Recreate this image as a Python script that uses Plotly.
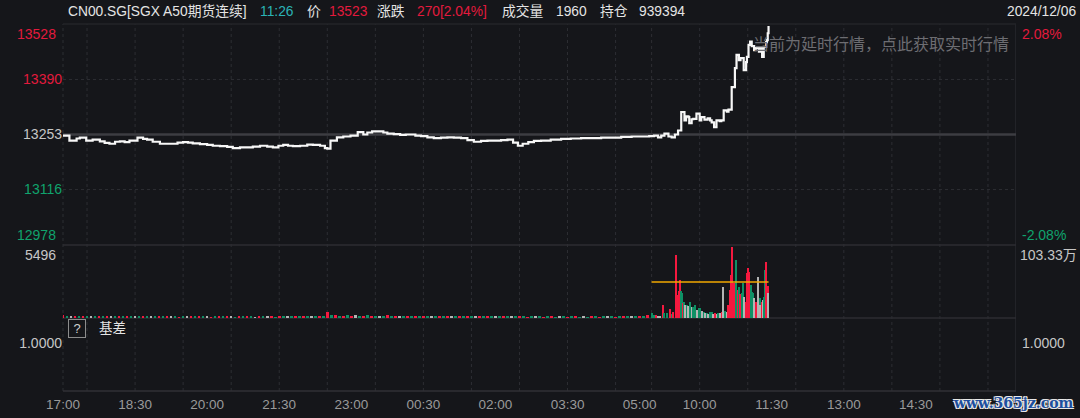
import plotly.graph_objects as go

# ---------------- data ----------------
prev_close = 13253
price_ticks = [13528, 13390, 13253, 13116, 12978]
pct_labels = ["2.08%", "1.04%", "0.00%", "-1.04%", "-2.08%"]
vol_max = 5496
oi_label = "103.33万"
basis_label = "1.0000"

xtick_times = ["17:00", "18:30", "20:00", "21:30", "23:00", "00:30", "02:00",
               "03:30", "05:00", "10:00", "11:30", "13:00", "14:30"]
grid_times = ["17:30", "18:30", "19:30", "20:30", "21:30", "22:30", "23:30",
              "00:30", "01:30", "02:30", "03:30", "04:30", "05:15",
              "10:00", "11:00", "12:00", "13:00", "14:00", "15:00", "16:00"]
session_end = "16:35"

price_times = [
    "17:00", "17:08", "17:17", "17:21", "17:29", "17:37", "17:46", "17:52", "17:58", "18:05",
    "18:11", "18:17", "18:23", "18:33", "18:40", "18:45", "18:52", "19:01", "19:10", "19:17",
    "19:23", "19:30", "19:36", "19:42", "19:51", "20:00", "20:07", "20:16", "20:25", "20:32",
    "20:41", "20:50", "20:57", "21:06", "21:15", "21:22", "21:29", "21:35", "21:41", "21:47",
    "21:56", "22:05", "22:12", "22:21", "22:27", "22:30", "22:34", "22:42", "22:50", "22:59",
    "23:08", "23:15", "23:20", "23:26", "23:34", "23:40", "23:45", "23:53", "00:01", "00:08",
    "00:14", "00:20", "00:27", "00:35", "00:43", "00:52", "01:00", "01:08", "01:17", "01:25",
    "01:33", "01:42", "01:50", "02:00", "02:07", "02:15", "02:22", "02:28", "02:34", "02:41",
    "02:48", "02:57", "03:09", "03:22", "03:34", "03:47", "04:00", "04:12", "04:25", "04:37",
    "04:50", "05:02", "05:12",
    "09:03", "09:08", "09:12", "09:16", "09:21", "09:25", "09:29", "09:33", "09:37", "09:41",
    "09:43", "09:46", "09:47", "09:50", "09:52", "09:56", "10:00", "10:02", "10:06", "10:10",
    "10:13", "10:15", "10:18", "10:21", "10:25", "10:27", "10:30", "10:34", "10:36", "10:40",
    "10:44", "10:46", "10:49", "10:51", "10:55", "10:58", "10:59", "11:01", "11:03", "11:05",
    "11:08", "11:10", "11:14", "11:16", "11:18", "11:20", "11:23", "11:24", "11:25", "11:26",
]
price_vals = [
    13250, 13238, 13243, 13245, 13238, 13240, 13236, 13232, 13230, 13235,
    13236, 13234, 13238, 13245, 13242, 13240, 13235, 13230, 13230, 13230,
    13233, 13234, 13233, 13231, 13229, 13227, 13225, 13224, 13222, 13219,
    13221, 13221, 13223, 13225, 13223, 13221, 13225, 13227, 13225, 13224,
    13225, 13228, 13227, 13225, 13219, 13218, 13238, 13246, 13248, 13250,
    13259, 13253, 13258, 13261, 13261, 13258, 13255, 13254, 13252, 13253,
    13253, 13250, 13249, 13246, 13244, 13245, 13246, 13245, 13244, 13239,
    13235, 13237, 13238, 13238, 13239, 13240, 13233, 13225, 13230, 13234,
    13237, 13238, 13240, 13242, 13243, 13244, 13244, 13245, 13245, 13247,
    13248, 13248, 13249,
    13250, 13246, 13250, 13255, 13248, 13246, 13253, 13263, 13309, 13288,
    13298, 13296, 13281, 13291, 13292, 13305, 13288, 13296, 13290, 13293,
    13288, 13283, 13271, 13288, 13286, 13288, 13313, 13310, 13315, 13371,
    13418, 13451, 13438, 13443, 13413, 13433, 13446, 13476, 13484, 13473,
    13463, 13468, 13459, 13468, 13446, 13471, 13483, 13488, 13505, 13523,
]

# night-session volume, one bar per 5 minutes from 17:00 to 05:10
night_vol = [
    260, 180, 150, 120, 140, 110, 130, 100, 120, 90,
    110, 130, 90, 100, 120, 80, 110, 90, 100, 130,
    90, 80, 100, 120, 90, 110, 80, 90, 100, 70,
    90, 110, 80, 100, 90, 120, 80, 70, 90, 100,
    80, 90, 110, 70, 90, 80, 100, 90, 70, 80,
    90, 100, 80, 70, 90, 110, 80, 90, 100, 80,
    90, 120, 100, 80, 90, 110, 420, 260, 200, 180,
    150, 220, 170, 190, 150, 140, 250, 160, 130, 150,
    120, 260, 140, 130, 110, 150, 120, 100, 130, 110,
    100, 120, 90, 110, 100, 90, 120, 80, 100, 90,
    110, 90, 80, 100, 120, 90, 80, 100, 90, 110,
    80, 90, 120, 100, 90, 80, 70, 90, 80, 100,
    70, 80, 90, 70, 80, 100, 70, 80, 90, 70,
    80, 70, 90, 80, 70, 90, 80, 100, 70, 80,
    90, 80, 100, 120, 150, 180, 220,
]
night_dir = list(
    "rgwrgrgwgr" "grwgrgrgwg" "rgwgrgrwgr" "gwrgrgwrgr" "grwgrgrgwr"
    "gwrgrgwgrg" "rgwgrgrgrg" "rgrwgrgrgw" "grgrwgrgrg" "rgwgrgrwgr"
    "grgwrgrgwg" "rgwgrgrgwg" "rgrgwgrgrg" "wgrgrgwgrg" "rgwgrgr"
)

day_times = [
    "09:00", "09:03", "09:05", "09:08", "09:10", "09:14", "09:16", "09:19", "09:23", "09:25",
    "09:27", "09:30", "09:32", "09:34", "09:35", "09:37", "09:38", "09:39", "09:41", "09:42",
    "09:44", "09:46", "09:48", "09:50", "09:52", "09:54", "09:57", "09:59", "10:00", "10:03",
    "10:05", "10:07", "10:09", "10:11", "10:13", "10:15", "10:17", "10:19", "10:22", "10:23",
    "10:25", "10:28", "10:29", "10:32", "10:34", "10:36", "10:38", "10:39", "10:41", "10:43",
    "10:45", "10:46", "10:48", "10:49", "10:51", "10:53", "10:54", "10:56", "10:58", "10:59",
    "11:00", "11:02", "11:04", "11:05", "11:07", "11:08", "11:10", "11:11", "11:13", "11:15",
    "11:16", "11:18", "11:19", "11:21", "11:22", "11:23", "11:25", "11:26",
]
day_vol = [
    400, 230, 230, 150, 80, 980, 380, 380, 680, 300,
    450, 4740, 1730, 2000, 2860, 2000, 1880, 1130, 1200, 1000,
    980, 900, 1200, 800, 830, 980, 600, 760, 760, 500,
    450, 400, 380, 300, 420, 450, 300, 380, 300, 400,
    380, 450, 2330, 500, 450, 1000, 2110, 3240, 5340, 2640,
    2200, 4370, 2110, 2330, 1800, 1880, 2640, 1580, 1200, 3400,
    3770, 3460, 2500, 1960, 1880, 1500, 1200, 1200, 3080, 1500,
    1000, 1200, 1350, 1600, 3610, 4220, 2400, 1880,
]
day_dir = list(
    "ggrwwrggrg" "rrrrrggrgw" "gwgwggwggw" "gwgwggwrwg"
    "wrwgwrrrrr" "rgrgrggwrr" "rrgggwwrwg" "wrwggrrw"
)

avg_times = ["09:00", "11:26"]
avg_vals = [2710, 2710]

# ---------------- helpers ----------------
def tx(t):
    """minutes from 17:00 on the compressed session axis"""
    h, m = map(int, t.split(":"))
    mins = h * 60 + m
    if h >= 17:
        return mins - 17 * 60
    if h < 9:
        return mins + 7 * 60
    return 735 + mins - 9 * 60


W, H = 1080, 418
ML, MR, MT, MB = 63, 64, 24, 27
PW, PH = W - ML - MR, H - MT - MB


def pxx(x):
    return (x - ML) / PW


def pxy(y):
    return (H - MB - y) / PH


RED = "#e31a3d"
GREEN = "#10a36d"
GREY = "#c6c6c6"
BG = "#15161a"
GRID = "#2d2e33"
FONT = "Liberation Sans, Noto Sans CJK SC, sans-serif"
AX = 14
HF = 13.8

dir_color = {"r": "#f5193f", "g": "#0f9065", "w": "#b4b4b4"}


def colored(v, txt):
    if v > prev_close:
        return f'<span style="color:{RED}">{txt}</span>'
    if v < prev_close:
        return f'<span style="color:{GREEN}">{txt}</span>'
    return txt

# panel domains
D_PRICE = [pxy(245), 1.0]
D_VOL = [pxy(318), pxy(245)]
D_BASIS = [0.0, pxy(318)]

fig = go.Figure()

fig.add_trace(go.Bar(
    x=[tx("17:00") + 5 * i for i in range(len(night_vol))], y=night_vol,
    marker=dict(color=[dir_color[c] for c in night_dir], line_width=0),
    width=3.2, yaxis="y2", hoverinfo="skip", showlegend=False))
fig.add_trace(go.Bar(
    x=[tx(t) for t in day_times], y=day_vol,
    marker=dict(color=[dir_color[c] for c in day_dir], line_width=0),
    width=1.4, yaxis="y2", hoverinfo="skip", showlegend=False))
fig.add_trace(go.Scatter(
    x=[tx(t) for t in avg_times], y=avg_vals, mode="lines",
    line=dict(color="#f2a900", width=1.5), yaxis="y2", hoverinfo="skip", showlegend=False))
fig.add_trace(go.Scatter(
    x=[tx(t) for t in price_times], y=price_vals, mode="lines",
    line=dict(color="#f7f7f7", width=2.2, shape="hv"), yaxis="y", hoverinfo="skip", showlegend=False))

mid_ticks = price_ticks[1:4]
mid_pct = pct_labels[1:4]

shapes = []
for t in grid_times:
    shapes.append(dict(type="line", xref="x", yref="paper", x0=tx(t), x1=tx(t), y0=0, y1=1,
                       line=dict(color=GRID, width=1, dash="dot"), layer="below"))
shapes.append(dict(type="line", xref="paper", yref="paper", x0=0, x1=0, y0=0, y1=1,
                   line=dict(color=GRID, width=1, dash="dot"), layer="below"))
end_x = tx(session_end)
shapes.append(dict(type="line", xref="x", yref="paper", x0=end_x, x1=end_x, y0=0, y1=1,
                   line=dict(color="#303136", width=1), layer="below"))
for yv in [price_ticks[1], price_ticks[3]]:
    shapes.append(dict(type="line", xref="paper", yref="y", x0=0, x1=1, y0=yv, y1=yv,
                       line=dict(color=GRID, width=1, dash="dot"), layer="below"))
for yv, col in [(1.0, "#232428"), (D_PRICE[0], "#2c2d32"), (D_VOL[0], "#2c2d32"), (0.0, "#303136")]:
    shapes.append(dict(type="line", xref="paper", yref="paper", x0=0, x1=1, y0=yv, y1=yv,
                       line=dict(color=col, width=1.5), layer="below"))
shapes.append(dict(type="line", xref="paper", yref="y", x0=0, x1=1, y0=prev_close, y1=prev_close,
                   line=dict(color="#3c3d42", width=2.5), layer="below"))

ann = []


def A(text, x, y, xanchor="left", yanchor="middle", size=AX, color=GREY, xref="paper", yref="paper", **kw):
    ann.append(dict(text=text, x=x, y=y, xref=xref, yref=yref, xanchor=xanchor, yanchor=yanchor,
                    showarrow=False, font=dict(family=FONT, size=size, color=color), **kw))

# header
HY = pxy(11)
A("CN00.SG[SGX A50期货连续]", pxx(66), HY, color="#e4e4e4", size=HF)
A("11:26", pxx(258), HY, color="#2bb3b6", size=HF)
A("价", pxx(305), HY, color="#e4e4e4", size=HF)
A("13523", pxx(327), HY, color=RED, size=HF)
A("涨跌", pxx(375), HY, color="#e4e4e4", size=HF)
A("270[2.04%]", pxx(415), HY, color=RED, size=HF)
A("成交量", pxx(500), HY, color="#e4e4e4", size=HF)
A("1960", pxx(554), HY, color="#e4e4e4", size=HF)
A("持仓", pxx(598), HY, color="#e4e4e4", size=HF)
A("939394", pxx(637), HY, color="#e4e4e4", size=HF)
A("2024/12/06", pxx(1078), HY, xanchor="right", color="#e4e4e4", size=HF)

# price axis ends
A(colored(price_ticks[0], str(price_ticks[0])), pxx(58), price_ticks[0], xanchor="right", yanchor="top", yref="y")
A(colored(price_ticks[4], str(price_ticks[4])), pxx(58), price_ticks[4], xanchor="right", yanchor="bottom", yref="y")
A(colored(price_ticks[0], pct_labels[0]), pxx(1020), price_ticks[0], yanchor="top", yref="y")
A(colored(price_ticks[4], pct_labels[4]), pxx(1020), price_ticks[4], yanchor="bottom", yref="y")
# volume labels
A(str(vol_max), pxx(58), vol_max, xanchor="right", yanchor="top", yref="y2")
A(oi_label, pxx(1018), vol_max, yanchor="top", yref="y2")
# basis
A("1.0000", pxx(1020), 1.0, yref="y3")
A("&nbsp;?&nbsp;", pxx(77), pxy(328), xanchor="center", size=13, color="#cfcfcf",
  bordercolor="#8c8c8c", borderwidth=1, borderpad=1)
A("基差", pxx(97), pxy(328), size=13.5, color="#e4e4e4")
# delay notice
A("当前为延时行情，点此获取实时行情", pxx(751), pxy(44), size=16, color="#6d6d72")
# watermark
ann.append(dict(text="<b>www.365jz.com</b>", x=pxx(1076), y=pxy(403), xref="paper", yref="paper",
                xanchor="right", yanchor="middle", showarrow=False,
                font=dict(family="DejaVu Serif", size=14, color="#1d4f9e",
                          shadow="1px 1px 0 #e8e8e8, -1px -1px 0 #e8e8e8, 1px -1px 0 #e8e8e8, -1px 1px 0 #e8e8e8")))

fig.update_layout(
    width=W, height=H, margin=dict(l=ML, r=MR, t=MT, b=MB, autoexpand=False),
    paper_bgcolor=BG, plot_bgcolor=BG, barmode="overlay", bargap=0,
    showlegend=False, font=dict(family=FONT, color=GREY, size=AX),
    shapes=shapes, annotations=ann,
    xaxis=dict(domain=[0, 1], range=[0, tx(session_end)], anchor="y3", automargin=False,
               tickvals=[tx(t) for t in xtick_times], ticktext=xtick_times,
               tickfont=dict(color="#9a9a9a", size=13.5), ticks="", ticklabelstandoff=3,
               showgrid=False, zeroline=False, showline=False, fixedrange=True),
    yaxis=dict(domain=D_PRICE, range=[price_ticks[4], price_ticks[0]], anchor="x", automargin=False,
               tickvals=mid_ticks, ticktext=[colored(v, str(v)) for v in mid_ticks],
               tickfont=dict(size=AX), ticks="", showgrid=False,
               zeroline=False, showline=False),
    yaxis4=dict(overlaying="y", side="right", anchor="x", range=[price_ticks[4], price_ticks[0]],
                automargin=False,
                tickvals=mid_ticks, ticktext=[colored(v, p) for v, p in zip(mid_ticks, mid_pct)],
                tickfont=dict(size=AX), ticks="", showgrid=False, zeroline=False, showline=False),
    yaxis2=dict(domain=D_VOL, range=[0, vol_max], anchor="x", showticklabels=False, automargin=False,
                showgrid=False, zeroline=False, showline=False),
    yaxis3=dict(domain=D_BASIS, range=[0.934, 1.034], anchor="x", tickvals=[1.0], automargin=False,
                ticktext=[basis_label], tickfont=dict(size=AX), ticks="",
                showgrid=False, zeroline=False, showline=False),
)

page_fix = ("document.body.style.margin='0';document.body.style.padding='0';"
            "document.body.style.background='" + BG + "';"
            "document.documentElement.style.overflow='hidden';")
fig.write_html("out.html", post_script=page_fix, config={"displayModeBar": False})
